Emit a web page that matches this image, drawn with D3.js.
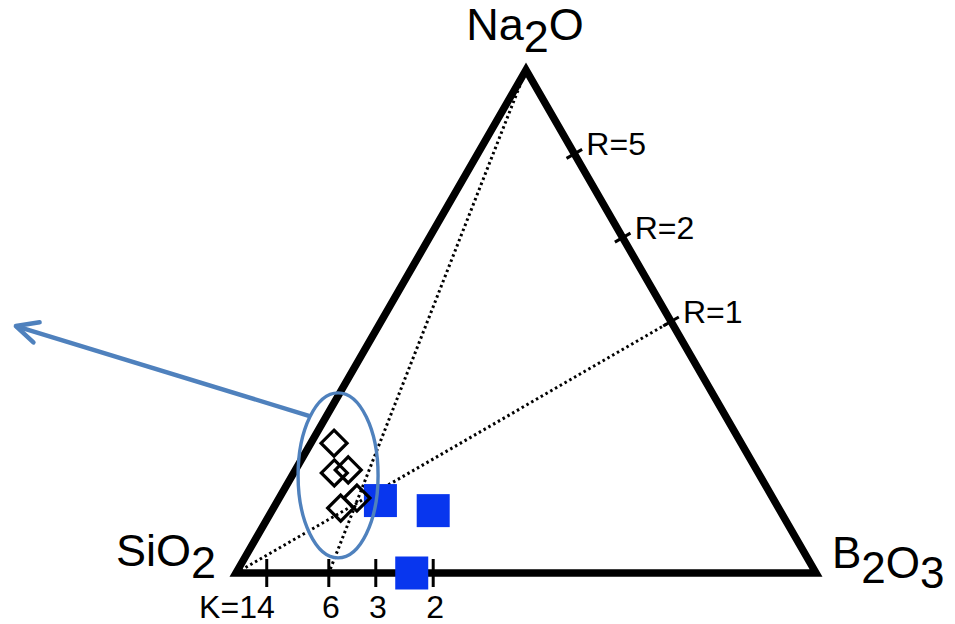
<!DOCTYPE html>
<html>
<head>
<meta charset="utf-8">
<script src="https://cdn.jsdelivr.net/npm/d3@7"></script>
<style>
	body { margin: 0; background: #fff; }
	text { font-family: "Liberation Sans", Arial, Helvetica, sans-serif; fill: #000; }
</style>
</head>
<body>
<div id="chart"></div>
<script>
// compositions in mol% (SiO2, B2O3, Na2O)
var diamondSiO2 = [70.2, 73.1, 70.4, 75.5, 71.7];
var diamondB2O3 = [4.0, 7.0, 9.1, 11.6, 13.4];
var diamondNa2O = [25.8, 19.9, 20.5, 12.9, 14.9];

var squareSiO2 = [67.9, 59.8, 69.7];
var squareB2O3 = [17.7, 27.8, 30.3];
var squareNa2O = [14.4, 12.4, 0.0];

// K = SiO2/B2O3 ticks along the bottom edge (B2O3 %)
var kLabels = ["K=14", "6", "3", "2"];
var kB2O3 = [5.3, 16.0, 24.1, 34.0];

// R = Na2O/B2O3 ticks on the right edge
var rValues = [5, 2, 1];
var rLabels = ["R=5", "R=2", "R=1"];

// annotation: circled group and arrow (B2O3 %, Na2O %)
var ringCentre = [7.9, 19.4];
var arrowFrom = [-2.9, 31.2];
var arrowTo = [-62.5, 49.1];

var width = 955, height = 624;

var svg = d3.select("#chart")
	.append("svg")
	.attr("width", width)
	.attr("height", height);

// ternary -> cartesian using plain linear scales
var x = d3.scaleLinear().domain([0, 100]).range([236, 816]);
var y = d3.scaleLinear().domain([0, 100]).range([573, 70]);

function px(b, n){ return x(b + n / 2); }
function py(b, n){ return y(n); }

var S = [px(0, 0), py(0, 0)],
	B = [px(100, 0), py(100, 0)],
	N = [px(0, 100), py(0, 100)];

// dotted guide lines
var rOne = rValues[2] / (rValues[2] + 1) * 100;
svg.append("line")
	.attr("x1", S[0]).attr("y1", S[1])
	.attr("x2", px(100 - rOne, rOne)).attr("y2", py(100 - rOne, rOne))
	.attr("stroke", "#000").attr("stroke-width", 3)
	.attr("stroke-dasharray", "2.5,3");
svg.append("line")
	.attr("x1", N[0]).attr("y1", N[1])
	.attr("x2", px(kB2O3[1], 0)).attr("y2", py(kB2O3[1], 0))
	.attr("stroke", "#000").attr("stroke-width", 3)
	.attr("stroke-dasharray", "2.5,3");

// triangle
svg.append("path")
	.attr("d", d3.line()([S, B, N]) + "Z")
	.attr("fill", "none")
	.attr("stroke", "#000")
	.attr("stroke-width", 7.5)
	.attr("stroke-linejoin", "miter");

// K ticks
svg.selectAll(".ktick")
	.data(kB2O3)
	.enter().append("line")
	.attr("class", "ktick")
	.attr("x1", function(d){ return px(d, 0); })
	.attr("x2", function(d){ return px(d, 0); })
	.attr("y1", py(0, 0) - 14)
	.attr("y2", py(0, 0) + 14)
	.attr("stroke", "#000").attr("stroke-width", 3);

svg.selectAll(".klabel")
	.data(kB2O3)
	.enter().append("text")
	.attr("class", "klabel")
	.attr("x", function(d, i){ return i == 0 ? px(d, 0) + 8 : px(d, 0) + 2; })
	.attr("y", 618)
	.attr("text-anchor", function(d, i){ return i == 0 ? "end" : "middle"; })
	.style("font-size", "32px")
	.text(function(d, i){ return kLabels[i]; });

// R ticks, perpendicular to right edge
svg.selectAll(".rtick")
	.data(rValues)
	.enter().append("line")
	.attr("class", "rtick")
	.attr("x1", function(d){ var n = d / (d + 1) * 100; return px(100 - n, n) - 9 * 0.866; })
	.attr("y1", function(d){ var n = d / (d + 1) * 100; return py(100 - n, n) + 9 * 0.5; })
	.attr("x2", function(d){ var n = d / (d + 1) * 100; return px(100 - n, n) + 9 * 0.866; })
	.attr("y2", function(d){ var n = d / (d + 1) * 100; return py(100 - n, n) - 9 * 0.5; })
	.attr("stroke", "#000").attr("stroke-width", 3);

svg.selectAll(".rlabel")
	.data(rValues)
	.enter().append("text")
	.attr("class", "rlabel")
	.attr("x", function(d){ var n = d / (d + 1) * 100; return px(100 - n, n) + 12; })
	.attr("y", function(d){ var n = d / (d + 1) * 100; return py(100 - n, n) + 1; })
	.style("font-size", "32px")
	.text(function(d, i){ return rLabels[i]; });

// vertex labels
var na = svg.append("text").attr("x", 525).attr("y", 40)
	.attr("text-anchor", "middle").style("font-size", "45px");
na.append("tspan").text("Na");
na.append("tspan").attr("dy", 12).text("2");
na.append("tspan").attr("dy", -12).text("O");

var si = svg.append("text").attr("x", 216).attr("y", 566)
	.attr("text-anchor", "end").style("font-size", "45px");
si.append("tspan").text("SiO");
si.append("tspan").attr("dy", 12).text("2");

var bo = svg.append("text").attr("x", 832).attr("y", 568)
	.style("font-size", "44px");
bo.append("tspan").text("B");
bo.append("tspan").attr("dy", 15).text("2");
bo.append("tspan").attr("dy", -5).text("O");
bo.append("tspan").attr("dy", 10).text("3");

// squares
var squares = squareSiO2.map(function(d, i){ return {b: squareB2O3[i], n: squareNa2O[i]}; });
svg.selectAll(".sq")
	.data(squares)
	.enter().append("rect")
	.attr("class", "sq")
	.attr("x", function(d){ return px(d.b, d.n) - 16.5; })
	.attr("y", function(d){ return py(d.b, d.n) - 16.5; })
	.attr("width", 33).attr("height", 33)
	.attr("fill", "#0836ee");

// diamonds
var diamonds = diamondSiO2.map(function(d, i){ return {b: diamondB2O3[i], n: diamondNa2O[i]}; });
svg.selectAll(".dm")
	.data(diamonds)
	.enter().append("path")
	.attr("class", "dm")
	.attr("d", "M0,-13L13,0L0,13L-13,0Z")
	.attr("transform", function(d){ return "translate(" + px(d.b, d.n) + "," + py(d.b, d.n) + ")"; })
	.attr("fill", "none")
	.attr("stroke", "#000")
	.attr("stroke-width", 3.2);

// ring round the group
svg.append("ellipse")
	.attr("cx", px(ringCentre[0], ringCentre[1]))
	.attr("cy", py(ringCentre[0], ringCentre[1]))
	.attr("rx", 40).attr("ry", 82.5)
	.attr("fill", "none")
	.attr("stroke", "#4f81bd")
	.attr("stroke-width", 3.4);

// arrow
var ax1 = px(arrowFrom[0], arrowFrom[1]), ay1 = py(arrowFrom[0], arrowFrom[1]);
var ax2 = px(arrowTo[0], arrowTo[1]), ay2 = py(arrowTo[0], arrowTo[1]);
var ang = Math.atan2(ay1 - ay2, ax1 - ax2);
var wing = 24, spread = 26 * Math.PI / 180;
svg.append("line")
	.attr("x1", ax1).attr("y1", ay1).attr("x2", ax2).attr("y2", ay2)
	.attr("stroke", "#4f81bd").attr("stroke-width", 4.5);
svg.append("path")
	.attr("d", d3.line()([
		[ax2 + wing * Math.cos(ang - spread), ay2 + wing * Math.sin(ang - spread)],
		[ax2, ay2],
		[ax2 + wing * Math.cos(ang + spread), ay2 + wing * Math.sin(ang + spread)]
	]))
	.attr("fill", "none")
	.attr("stroke", "#4f81bd").attr("stroke-width", 4.5)
	.attr("stroke-linecap", "round").attr("stroke-linejoin", "round");
</script>
</body>
</html>
